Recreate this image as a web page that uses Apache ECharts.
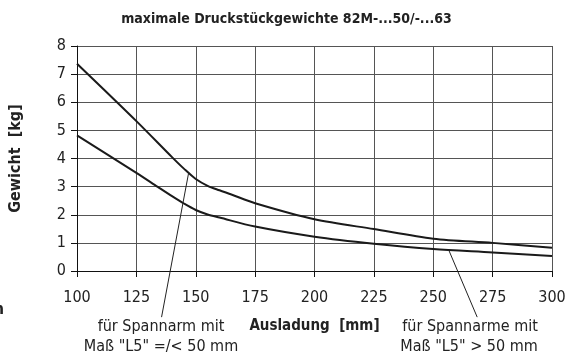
<!DOCTYPE html>
<html>
<head>
<meta charset="utf-8">
<script src="https://cdn.jsdelivr.net/npm/echarts@6/dist/echarts.min.js"></script>
<style>
  html, body { margin: 0; padding: 0; background: #fff; }
  #chart { width: 573px; height: 360px; }
</style>
</head>
<body>
<div id="chart"></div>
<script>
// Maximum pressure-piece weights vs. reach
const titleText = 'maximale Druckstückgewichte 82M-...50/-...63';
const xAxisName = 'Ausladung  [mm]';
const yAxisName = 'Gewicht  [kg]';
const xTicks = [100, 125, 150, 175, 200, 225, 250, 275, 300];
const yTicks = [0, 1, 2, 3, 4, 5, 6, 7, 8];

// Clamp arm with dimension "L5" =/< 50 mm (upper curve)
const upperX = [100, 125, 140, 145, 150, 155, 160, 165, 175, 200, 225, 250, 275, 300];
const upperY = [7.37, 5.33, 4.05, 3.64, 3.27, 3.03, 2.87, 2.72, 2.41, 1.84, 1.49, 1.15, 1.0, 0.83];

// Clamp arms with dimension "L5" > 50 mm (lower curve)
const lowerX = [100, 125, 134, 140, 145, 150, 155, 160, 175, 200, 225, 250, 275, 300];
const lowerY = [4.82, 3.49, 2.99, 2.66, 2.40, 2.17, 2.01, 1.90, 1.58, 1.22, 0.97, 0.78, 0.66, 0.53];

const noteLeft = ['für Spannarm mit', 'Maß "L5" =/< 50 mm'];
const noteRight = ['für Spannarme mit', 'Maß "L5" > 50 mm'];

const FONT = '"Liberation Sans Narrow", "DejaVu Sans Condensed", "Liberation Sans", sans-serif';

const pairs = (xs, ys) => xs.map((x, i) => [x, ys[i]]);

const chart = echarts.init(document.getElementById('chart'), null, { renderer: 'canvas' });

const option = {
  animation: false,
  backgroundColor: '#fff',
  title: {
    text: titleText,
    left: 'center',
    top: 7,
    textStyle: { fontFamily: FONT, fontWeight: 'bold', fontSize: 14, color: '#222' }
  },
  grid: { left: 77, right: 21, top: 46, bottom: 89, containLabel: false },
  xAxis: {
    type: 'value',
    min: 100, max: 300, interval: 25,
    name: xAxisName,
    nameLocation: 'middle',
    nameGap: 48,
    nameTextStyle: { fontFamily: FONT, fontWeight: 'bold', fontSize: 15, color: '#222' },
    axisLine: { show: true, onZero: false, lineStyle: { color: '#111', width: 1 } },
    axisTick: { show: true, inside: false, length: 6, lineStyle: { color: '#111' } },
    axisLabel: { margin: 19, fontFamily: FONT, fontSize: 16, color: '#222' },
    splitLine: { show: true, lineStyle: { color: '#555', width: 1 } }
  },
  yAxis: {
    type: 'value',
    min: 0, max: 8, interval: 1,
    name: yAxisName,
    nameLocation: 'middle',
    nameGap: 53,
    nameRotate: 90,
    nameTextStyle: { fontFamily: FONT, fontWeight: 'bold', fontSize: 16, color: '#222' },
    axisLine: { show: true, lineStyle: { color: '#111', width: 1 } },
    axisTick: { show: true, inside: false, length: 6, lineStyle: { color: '#111' } },
    axisLabel: { margin: 11, fontFamily: FONT, fontSize: 16, color: '#222' },
    splitLine: { show: true, lineStyle: { color: '#555', width: 1 } }
  },
  series: [
    {
      type: 'line',
      data: pairs(upperX, upperY),
      smooth: 0.3,
      symbol: 'none',
      lineStyle: { color: '#1a1a1a', width: 2 }
    },
    {
      type: 'line',
      data: pairs(lowerX, lowerY),
      smooth: 0.3,
      symbol: 'none',
      lineStyle: { color: '#1a1a1a', width: 2 }
    }
  ]
};

chart.setOption(option);

// Leader lines from the curves down to their notes, placed in data space
const toPx = (x, y) => chart.convertToPixel({ gridIndex: 0 }, [x, y]);
const l1a = toPx(147, 3.49), l1b = toPx(135.6, -1.64);
const l2a = toPx(256.5, 0.75), l2b = toPx(268.5, -1.64);
const noteFont = 'normal 16px ' + FONT;

chart.setOption({
  graphic: [
    { type: 'line', shape: { x1: l1a[0], y1: l1a[1], x2: l1b[0], y2: l1b[1] },
      style: { stroke: '#222', lineWidth: 1 }, z: 10 },
    { type: 'line', shape: { x1: l2a[0], y1: l2a[1], x2: l2b[0], y2: l2b[1] },
      style: { stroke: '#222', lineWidth: 1 }, z: 10 },
    { type: 'text', x: 161, y: 327, style: { text: noteLeft[0], font: noteFont, fill: '#222', textAlign: 'center', textVerticalAlign: 'middle' } },
    { type: 'text', x: 161, y: 347, style: { text: noteLeft[1], font: noteFont, fill: '#222', textAlign: 'center', textVerticalAlign: 'middle' } },
    { type: 'text', x: 470, y: 327, style: { text: noteRight[0], font: noteFont, fill: '#222', textAlign: 'center', textVerticalAlign: 'middle' } },
    { type: 'text', x: 469, y: 347, style: { text: noteRight[1], font: noteFont, fill: '#222', textAlign: 'center', textVerticalAlign: 'middle' } },
    { type: 'text', x: 4, y: 310, style: { text: 'n', font: 'bold 16px ' + FONT, fill: '#222', textAlign: 'right', textVerticalAlign: 'middle' } }
  ]
});
</script>
</body>
</html>
